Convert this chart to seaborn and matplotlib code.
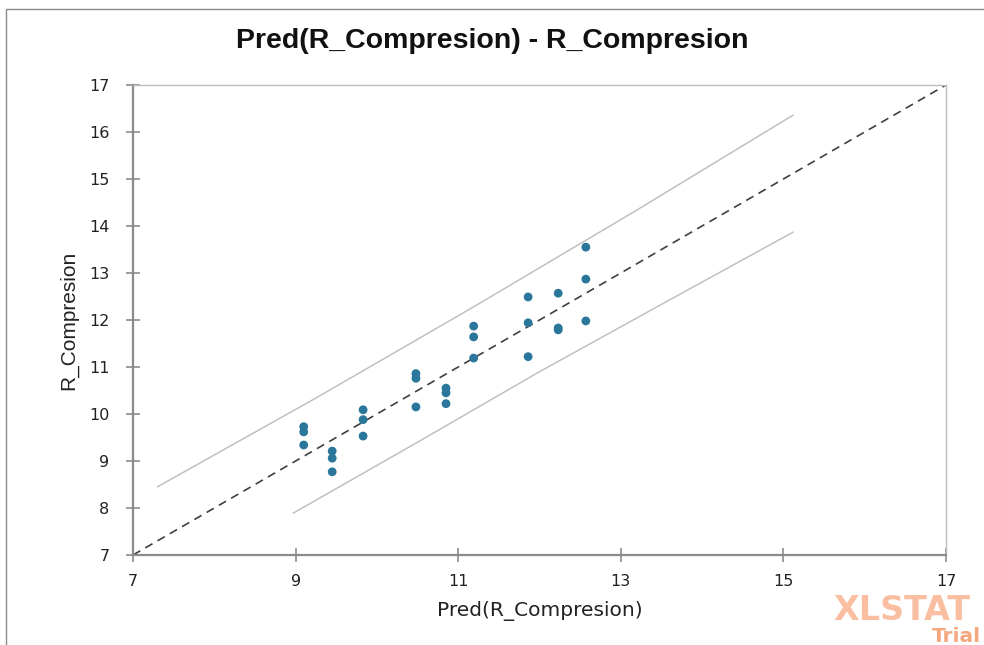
import matplotlib
matplotlib.use("Agg")
import matplotlib.pyplot as plt
import seaborn as sns
import pandas as pd
from matplotlib.patches import Rectangle

# ---- data ----
pred = [9.10, 9.10, 9.10, 9.45, 9.45, 9.45, 9.83, 9.83, 9.83,
        10.48, 10.48, 10.48, 10.85, 10.85, 10.85, 11.19, 11.19, 11.19,
        11.86, 11.86, 11.86, 12.23, 12.23, 12.23, 12.57, 12.57, 12.57]
obs = [9.73, 9.62, 9.34, 9.21, 9.06, 8.77, 10.09, 9.88, 9.53,
       10.86, 10.76, 10.15, 10.55, 10.45, 10.22, 11.87, 11.64, 11.19,
       12.49, 11.94, 11.22, 12.57, 11.83, 11.79, 13.55, 12.87, 11.98]
upper_x = [7.30, 9.25, 11.19, 13.15, 15.12]
upper_y = [8.45, 10.34, 12.28, 14.29, 16.36]
lower_x = [8.97, 10.50, 12.00, 13.55, 15.12]
lower_y = [7.89, 9.40, 10.90, 12.38, 13.87]
diag = [7, 17]
xticks = [7, 9, 11, 13, 15, 17]
yticks = [7, 8, 9, 10, 11, 12, 13, 14, 15, 16, 17]

sns.set_style("white")
plt.rcParams['font.family'] = ['DejaVu Sans']

fig = plt.figure(figsize=(9.84, 6.45), dpi=100)
ax = fig.add_axes([133/984, 1-555/645, (946-133)/984, (555-85)/645])

# outer frame (top and left edges visible)
fig.patches.append(Rectangle((6/984, -0.05), 1.2, 1.05 - 9/645, transform=fig.transFigure,
                             fill=False, edgecolor='#8c8c8c', linewidth=1.0))

df_pts = pd.DataFrame({'pred': pred, 'obs': obs})
df_up = pd.DataFrame({'x': upper_x, 'y': upper_y})
df_lo = pd.DataFrame({'x': lower_x, 'y': lower_y})
df_d = pd.DataFrame({'x': diag, 'y': diag})

sns.lineplot(data=df_up, x='x', y='y', ax=ax, color='#c0c0c0', linewidth=1.1,
             sort=False, estimator=None)
sns.lineplot(data=df_lo, x='x', y='y', ax=ax, color='#c0c0c0', linewidth=1.1,
             sort=False, estimator=None)
sns.lineplot(data=df_d, x='x', y='y', ax=ax, color='#404040', linewidth=1.2,
             linestyle=(0, (5, 3.5)), sort=False, estimator=None)
sns.scatterplot(data=df_pts, x='pred', y='obs', ax=ax, color='#2A779B',
                s=40, edgecolor='none', marker='o', zorder=5)

ax.set_xlim(7, 17)
ax.set_ylim(7, 17)
ax.set_xticks(xticks)
ax.set_yticks(yticks)
ax.set_xticklabels([str(t) for t in xticks])
ax.set_yticklabels([str(t) for t in yticks])

for side in ['left', 'bottom']:
    ax.spines[side].set_color('#8c8c8c')
    ax.spines[side].set_linewidth(1.6)
for side in ['top', 'right']:
    ax.spines[side].set_visible(True)
    ax.spines[side].set_color('#bdbdbd')
    ax.spines[side].set_linewidth(1.0)

ax.tick_params(axis='both', which='major', direction='inout', length=10, width=1.2,
               color='#8c8c8c', labelsize=11.5, labelcolor='#222222', pad=12,
               left=True, bottom=True)
ax.tick_params(axis='x', pad=9)

ax.set_xlabel('Pred(R_Compresion)', fontsize=14.5, family=['DejaVu Sans'],
              color='#222222', labelpad=8)
ax.set_ylabel('R_Compresion', fontsize=15, family=['Liberation Sans', 'DejaVu Sans'],
              color='#222222', labelpad=8)

fig.text(0.5, 1-41/645, 'Pred(R_Compresion) - R_Compresion', ha='center', va='center',
         fontsize=20.5, fontweight='bold',
         family=['Liberation Sans', 'DejaVu Sans'], color='#111111')

# watermark
fig.text(833/984, 1-611/645, 'XLSTAT', ha='left', va='center', fontsize=24, fontweight='bold',
         family=['DejaVu Sans'], color='#F9BFA0')
fig.text(932/984, 1-636/645, 'Trial', ha='left', va='center', fontsize=14.5, fontweight='bold',
         family=['DejaVu Sans'], color='#F5A77E')

fig.savefig('out.png', dpi=100)
